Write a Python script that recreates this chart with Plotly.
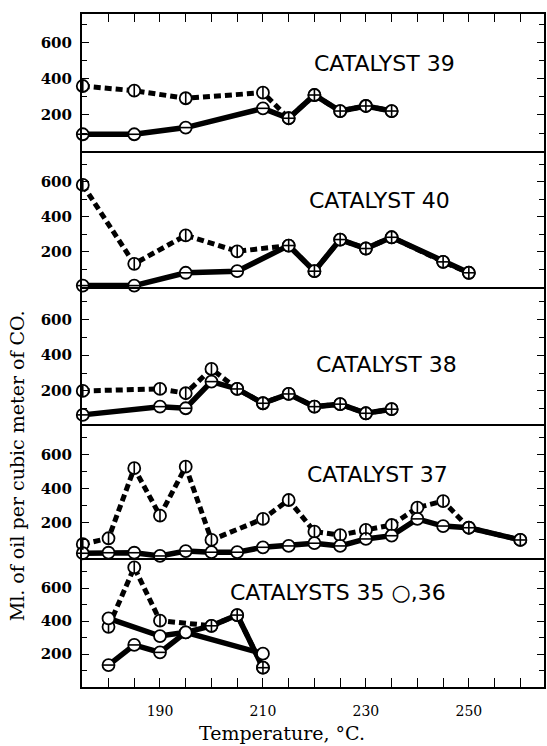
import plotly.graph_objects as go

# ---------------- data ----------------
# Catalyst 39
c39_temp = [175, 185, 195, 210, 215, 220, 225, 230, 235]
c39_dashed = [361, 335, 293, 324, 182, 311, 222, 250, 222]
c39_solid = [93, 93, 130, 237, 182, 311, 222, 250, 222]

# Catalyst 40
c40_temp = [175, 185, 195, 205, 215, 220, 225, 230, 235, 245, 250]
c40_dashed = [581, 132, 294, 203, 236, 90, 270, 219, 283, 143, 81]
c40_solid = [8, 8, 81, 90, 236, 90, 270, 219, 283, 143, 81]

# Catalyst 38
c38_temp = [175, 190, 195, 200, 205, 210, 215, 220, 225, 230, 235]
c38_dashed = [200, 211, 187, 323, 211, 131, 183, 112, 126, 75, 98]
c38_solid = [66, 112, 103, 252, 211, 131, 183, 112, 126, 75, 98]

# Catalyst 37
c37_dashed_temp = [175, 180, 185, 190, 195, 200, 210, 215, 220, 225, 230, 235, 240, 245, 250, 260]
c37_dashed = [75, 110, 522, 243, 531, 100, 224, 335, 149, 129, 159, 188, 290, 329, 172, 100]
c37_solid_temp = [175, 180, 185, 190, 195, 200, 205, 210, 215, 220, 225, 230, 235, 240, 245, 250, 260]
c37_solid = [22, 25, 25, 6, 35, 28, 28, 57, 65, 81, 65, 106, 125, 224, 182, 172, 100]

# Catalysts 36 (dashed / solid) and 35 (plain circles)
c36_dashed_temp = [180, 185, 190, 200, 205, 210]
c36_dashed = [365, 725, 402, 371, 436, 117]
c36_solid_temp = [180, 185, 190, 195, 200, 205, 210]
c36_solid = [133, 255, 210, 331, 371, 436, 117]
c35_temp = [180, 190, 195, 210]
c35_values = [416, 309, 331, 202]

panel_labels = ["CATALYST 39", "CATALYST 40", "CATALYST 38", "CATALYST 37", "CATALYSTS 35 \u25CB,36"]
y_ticks = [200, 400, 600]
x_ticks = [190, 210, 230, 250]

# ---------------- layout geometry ----------------
W, H = 547, 746
ML, MR, MT, MB = 82, 1, 14, 59
PW = W - ML - MR
PH = H - MT - MB


def py2paper(py):
    return (H - MB - py) / PH


def px2paper(px):
    return (px - ML) / PW


panel_px = [(14, 151), (151, 287), (287, 424), (424, 558), (558, 687)]
y_ranges = [[0, 761], [0, 774], [15, 781], [-6, 782], [0, 782]]
label_pos = [(386, 64), (381, 200), (388, 365), (379, 474), (339, 592)]

fig = go.Figure()

DASH_W = 5
SOLID_W = 5.5
CIRC = dict(symbol="circle", size=12, color="white", line=dict(color="black", width=1.8))
VBAR = dict(symbol="line-ns-open", size=8, color="black", line=dict(color="black", width=1.6))
HBAR = dict(symbol="line-ew-open", size=8, color="black", line=dict(color="black", width=1.6))


def add_panel(i, dashed, solids, plain=None):
    ax = "" if i == 1 else str(i)
    xa, ya = "x" + ax, "y" + ax
    for t, v in dashed:
        fig.add_trace(go.Scatter(x=t, y=v, mode="lines", xaxis=xa, yaxis=ya,
                                 line=dict(color="black", width=DASH_W, dash="7px,4px"),
                                 hoverinfo="skip", showlegend=False))
    for t, v in solids:
        fig.add_trace(go.Scatter(x=t, y=v, mode="lines", xaxis=xa, yaxis=ya,
                                 line=dict(color="black", width=SOLID_W),
                                 hoverinfo="skip", showlegend=False))
    if plain:
        fig.add_trace(go.Scatter(x=plain[0], y=plain[1], mode="lines", xaxis=xa, yaxis=ya,
                                 line=dict(color="black", width=SOLID_W),
                                 hoverinfo="skip", showlegend=False))
    for t, v in dashed + solids:
        fig.add_trace(go.Scatter(x=t, y=v, mode="markers", xaxis=xa, yaxis=ya,
                                 marker=CIRC, cliponaxis=False,
                                 hoverinfo="skip", showlegend=False))
    for t, v in dashed:
        fig.add_trace(go.Scatter(x=t, y=v, mode="markers", xaxis=xa, yaxis=ya,
                                 marker=VBAR, cliponaxis=False,
                                 hoverinfo="skip", showlegend=False))
    for t, v in solids:
        fig.add_trace(go.Scatter(x=t, y=v, mode="markers", xaxis=xa, yaxis=ya,
                                 marker=HBAR, cliponaxis=False,
                                 hoverinfo="skip", showlegend=False))
    if plain:
        fig.add_trace(go.Scatter(x=plain[0], y=plain[1], mode="markers", xaxis=xa, yaxis=ya,
                                 marker=CIRC, cliponaxis=False,
                                 hoverinfo="skip", showlegend=False))


add_panel(1, [(c39_temp, c39_dashed)], [(c39_temp, c39_solid)])
add_panel(2, [(c40_temp, c40_dashed)], [(c40_temp, c40_solid)])
add_panel(3, [(c38_temp, c38_dashed)], [(c38_temp, c38_solid)])
add_panel(4, [(c37_dashed_temp, c37_dashed)], [(c37_solid_temp, c37_solid)])
add_panel(5, [(c36_dashed_temp, c36_dashed)], [(c36_solid_temp, c36_solid)],
          plain=(c35_temp, c35_values))

x_range = [174.85, 264.6]
serif = "DejaVu Serif"

layout = dict(
    width=W, height=H,
    margin=dict(l=ML, r=MR, t=MT, b=MB, pad=0),
    paper_bgcolor="white", plot_bgcolor="white",
    showlegend=False,
)

for i in range(1, 6):
    ax = "" if i == 1 else str(i)
    top, bot = panel_px[i - 1]
    layout["yaxis" + ax] = dict(
        domain=[py2paper(bot), py2paper(top)], range=y_ranges[i - 1],
        anchor="x" + ax, showline=True, linewidth=2, linecolor="black", mirror="ticks",
        ticks="inside", ticklen=7, tickwidth=1.3, tickcolor="black",
        tickvals=y_ticks, ticktext=[str(v) for v in y_ticks],
        tickfont=dict(family=serif, size=15, color="black", weight="bold"),
        ticklabelstandoff=5,
        minor=dict(tickvals=[100, 300, 500, 700], ticks="inside", ticklen=5,
                   tickwidth=1, tickcolor="black"),
        showgrid=False, zeroline=False, fixedrange=True,
    )
    xa = dict(domain=[0, 1], range=x_range, anchor="y" + ax, showline=True,
              linewidth=2, linecolor="black", mirror=False, showgrid=False,
              zeroline=False, fixedrange=True)
    if i != 1:
        xa["matches"] = "x"
    if i == 1:
        xa.update(side="top", mirror=True, ticks="inside", ticklen=8, tickwidth=1.2,
                  tickcolor="black", tickvals=list(range(180, 265, 5)), showticklabels=False)
    elif i == 5:
        xa.update(ticks="inside", ticklen=9, tickwidth=1.2, tickcolor="black",
                  tickvals=x_ticks, ticktext=[str(v) for v in x_ticks],
                  tickfont=dict(family=serif, size=14, color="black"),
                  ticklabelstandoff=10,
                  minor=dict(tickvals=list(range(180, 265, 5)), ticks="inside",
                             ticklen=9, tickwidth=1.2, tickcolor="black"))
    else:
        xa.update(ticks="", showticklabels=False)
    layout["xaxis" + ax] = xa

annotations = []
for (lx, ly), txt in zip(label_pos, panel_labels):
    annotations.append(dict(text=txt, x=px2paper(lx), y=py2paper(ly), xref="paper", yref="paper",
                            showarrow=False, xanchor="center", yanchor="middle",
                            font=dict(family="DejaVu Sans", size=22, color="black")))
annotations.append(dict(text="Ml. of oil per cubic meter of CO.", textangle=-90,
                        x=px2paper(17), y=py2paper(466), xref="paper", yref="paper",
                        showarrow=False, xanchor="center", yanchor="middle",
                        font=dict(family=serif, size=19, color="black")))
annotations.append(dict(text="Temperature, \u00B0C.", x=px2paper(283), y=py2paper(733),
                        xref="paper", yref="paper", showarrow=False,
                        xanchor="center", yanchor="middle",
                        font=dict(family=serif, size=19, color="black")))
layout["annotations"] = annotations

fig.update_layout(**layout)
fig.write_html("out.html", config={"displayModeBar": False},
               post_script="document.body.style.margin='0';document.body.style.padding='0';")
